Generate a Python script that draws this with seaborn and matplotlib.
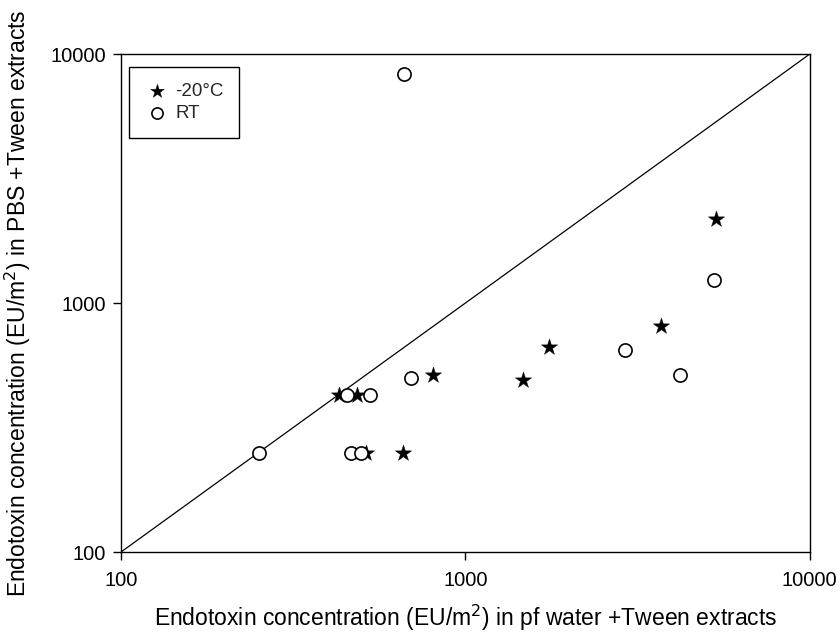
import matplotlib
matplotlib.use("Agg")
import matplotlib.pyplot as plt
import seaborn as sns
import pandas as pd
import numpy as np

# Data
frozen_x = [430, 483, 807, 1471, 1748, 3693, 5358, 657, 514]
frozen_y = [427, 427, 512, 489, 665, 806, 2173, 250, 250]
rt_x = [252, 452, 528, 695, 467, 498, 2917, 4210, 5272, 663]
rt_y = [250, 427, 427, 501, 250, 250, 646, 512, 1239, 8290]
series_labels = ["-20\u00b0C", "RT"]
tick_values = [100, 1000, 10000]
tick_labels = ["100", "1000", "10000"]

sns.set_theme(style="white")
plt.rcParams["font.family"] = ["Liberation Sans", "DejaVu Sans"]

df_f = pd.DataFrame({"x": frozen_x, "y": frozen_y})
df_r = pd.DataFrame({"x": rt_x, "y": rt_y})

fig = plt.figure(figsize=(8.4, 6.36), dpi=100)
ax = fig.add_axes([0.144, 0.132, 0.820, 0.783])

ax.plot([100, 10000], [100, 10000], color="black", lw=0.9, zorder=1)

sns.scatterplot(data=df_f, x="x", y="y", marker="*", s=150, color="black",
                edgecolor="black", linewidth=0.3, ax=ax, zorder=3, label=series_labels[0])
sns.scatterplot(data=df_r, x="x", y="y", marker="o", s=90, facecolor="white",
                edgecolor="black", linewidth=1.2, ax=ax, zorder=4, label=series_labels[1])

ax.set_xscale("log")
ax.set_yscale("log")
ax.set_xlim(100, 10000)
ax.set_ylim(100, 10000)
ax.set_xticks(tick_values)
ax.set_xticklabels(tick_labels)
ax.set_yticks(tick_values)
ax.set_yticklabels(tick_labels)
ax.minorticks_off()
ax.tick_params(axis="both", which="major", direction="out", length=6, width=1,
               color="black", labelsize=14.5, labelcolor="black", pad=5,
               bottom=True, left=True, top=False, right=False)
ax.tick_params(axis="x", pad=8)

for s in ax.spines.values():
    s.set_color("black")
    s.set_linewidth(1.0)

ax.set_xlabel("Endotoxin concentration (EU/m$^2$) in pf water +Tween extracts",
              fontsize=16.5, color="black", labelpad=9)
ax.set_ylabel("Endotoxin concentration (EU/m$^2$) in PBS +Tween extracts",
              fontsize=16.5, color="black", labelpad=12)

leg = ax.legend(loc="upper left", bbox_to_anchor=(0.012, 0.974), fontsize=13.5,
                frameon=True, fancybox=False, edgecolor="black", framealpha=1,
                borderpad=0.85, handletextpad=0.3, labelspacing=0.25, handlelength=1.3,
                markerscale=0.85, borderaxespad=0)
leg.get_frame().set_linewidth(1.0)

fig.savefig("out.png", dpi=100)
